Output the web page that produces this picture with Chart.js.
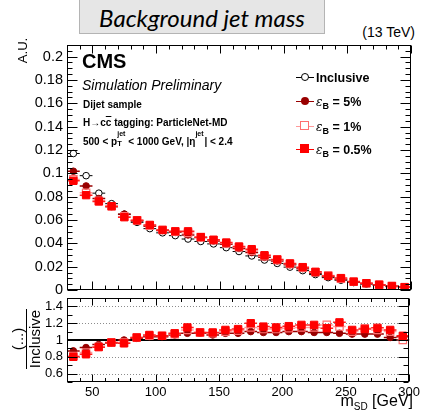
<!DOCTYPE html>
<html>
<head>
<meta charset="utf-8">
<script src="https://cdn.jsdelivr.net/npm/chart.js@4"></script>
<style>
  body { margin: 0; width: 423px; height: 412px; position: relative; overflow: hidden; background: #fff;
         font-family: "Liberation Sans", Arial, sans-serif; color: #000; }
  canvas { position: absolute; left: 0; top: 0; }
  .t { position: absolute; white-space: nowrap; line-height: 1; }
  .b { font-weight: bold; }
  #title { position: absolute; left: 79px; top: -1px; width: 244px; height: 33px; background: #e6e6e6;
           border: 1px solid #b4b4b4; font-family: Lato, "Open Sans", sans-serif; font-style: italic;
           font-size: 24px; text-align: center; line-height: 36px; }
  .leg { position: absolute; left: 296px; width: 130px; height: 16px; }
  .leg .ln { position: absolute; left: 0; top: 7px; width: 18px; height: 1px; }
  .leg .mk { position: absolute; box-sizing: border-box; }
  .leg .lab { position: absolute; left: 20px; top: 0; font-weight: bold; font-size: 12.5px; line-height: 16px; white-space: nowrap; }
  .eps { font-style: italic; font-weight: normal; font-family: "DejaVu Serif", serif; font-size: 12px; }
  .leg sub { font-size: 9px; vertical-align: -3px; }
  .stk { display: inline-block; position: relative; width: 11px; height: 1em; }
  .stk .up { position: absolute; left: 0; top: -5px; font-size: 7px; }
  .stk .dn { position: absolute; left: 0; top: 5px; font-size: 7.5px; }
  .ov { text-decoration: overline; }
</style>
</head>
<body>
<div id="title">Background jet mass</div>
<div class="t" style="right:8px; top:25px; font-size:14px;">(13 TeV)</div>

<canvas id="massChart" width="423" height="412"></canvas>
<canvas id="ratioChart" width="423" height="412"></canvas>

<div class="t b" style="left:82px; top:51px; font-size:20px;">CMS</div>
<div class="t" style="left:82px; top:78px; font-size:14px; font-style:italic;">Simulation Preliminary</div>
<div class="t b" style="left:83px; top:100px; font-size:10px;">Dijet sample</div>
<div class="t b" style="left:83px; top:118px; font-size:10px;">H→c<span class="ov">c</span> tagging: ParticleNet-MD</div>
<div class="t b" style="left:83px; top:135px; font-size:10px;">500 &lt; p<span class="stk"><span class="up">jet</span><span class="dn">T</span></span>&lt; 1000 GeV, |η<span class="stk" style="width:9px"><span class="up">jet</span></span>| &lt; 2.4</div>

<div class="leg" style="top:70px">
  <div class="ln" style="background:#000"></div>
  <div class="mk" style="left:5px; top:3px; width:8px; height:8px; border:1px solid #000; border-radius:50%; background:#fff"></div>
  <div class="lab">Inclusive</div>
</div>
<div class="leg" style="top:94px">
  <div class="ln" style="background:#990000"></div>
  <div class="mk" style="left:5px; top:3px; width:8px; height:8px; border-radius:50%; background:#990000"></div>
  <div class="lab"><span class="eps">ε</span><sub>B</sub> = 5%</div>
</div>
<div class="leg" style="top:119px">
  <div class="ln" style="background:#ff9a9a"></div>
  <div class="mk" style="left:4px; top:2px; width:9px; height:9px; border:1px solid #ff7070; background:#fff"></div>
  <div class="lab"><span class="eps">ε</span><sub>B</sub> = 1%</div>
</div>
<div class="leg" style="top:142px">
  <div class="ln" style="background:#ff0000"></div>
  <div class="mk" style="left:4px; top:2px; width:9px; height:9px; background:#ff0000"></div>
  <div class="lab"><span class="eps">ε</span><sub>B</sub> = 0.5%</div>
</div>

<div class="t" style="left:8px; top:44px; width:28px; font-size:13px; text-align:center; transform:rotate(-90deg); transform-origin:center;">A.U.</div>
<div style="position:absolute; left:-4px; top:323px; width:60px; height:32px; font-size:15px; line-height:15px; text-align:center; transform:rotate(-90deg); transform-origin:center;">
  <div style="border-bottom:1.5px solid #000; padding-bottom:1px">(...)</div>
  <div>Inclusive</div>
</div>
<div class="t" style="right:10px; top:393px; font-size:16px;">m<sub style="font-size:10px">SD</sub> [GeV]</div>

<script>
// soft-drop mass bin centres (GeV), 10 GeV wide bins
const massBins = [35, 45, 55, 65, 75, 85, 95, 105, 115, 125, 135, 145, 155, 165, 175,
                  185, 195, 205, 215, 225, 235, 245, 255, 265, 275, 285, 295];
const binHalf = 5;

// normalised distributions (A.U.)
const inclusive = [0.117, 0.098, 0.083, 0.074, 0.065, 0.058, 0.0526, 0.049, 0.0466, 0.0437, 0.0416, 0.0395, 0.0363, 0.033,
                   0.0292, 0.0257, 0.0228, 0.0196, 0.0166, 0.0132, 0.0106, 0.0084, 0.0064, 0.0051, 0.004, 0.003, 0.0024];
const effB5 = [0.1018, 0.0892, 0.0784, 0.0714, 0.065, 0.0592, 0.0547, 0.051, 0.0494, 0.0472, 0.0449, 0.0419, 0.0392, 0.0356,
               0.0321, 0.028, 0.0249, 0.0216, 0.0183, 0.0144, 0.0116, 0.0091, 0.0068, 0.0055, 0.0043, 0.0031, 0.0025];
const effB1 = [0.0948, 0.0833, 0.0764, 0.0718, 0.0631, 0.0597, 0.0552, 0.0515, 0.0499, 0.0489, 0.0453, 0.0427, 0.0399, 0.0366,
               0.0336, 0.029, 0.0258, 0.0223, 0.0191, 0.0152, 0.0125, 0.0097, 0.007, 0.0058, 0.0045, 0.0033, 0.0024];
const effB05 = [0.0936, 0.0813, 0.0759, 0.0718, 0.0624, 0.0597, 0.0558, 0.0515, 0.0503, 0.0503, 0.0453, 0.0431, 0.0407, 0.0373,
                0.035, 0.0298, 0.0262, 0.0228, 0.0196, 0.0156, 0.0121, 0.0102, 0.0072, 0.0058, 0.0046, 0.0034, 0.0025];

// ratios to inclusive
const ratioB5 = [0.87, 0.91, 0.945, 0.965, 1.0, 1.02, 1.04, 1.04, 1.06, 1.08, 1.08, 1.06, 1.08, 1.08,
                 1.1, 1.09, 1.09, 1.1, 1.1, 1.09, 1.09, 1.08, 1.07, 1.07, 1.07, 1.03, 1.04];
const ratioB1 = [0.81, 0.85, 0.92, 0.97, 0.97, 1.03, 1.05, 1.05, 1.07, 1.12, 1.09, 1.08, 1.1, 1.11,
                 1.15, 1.13, 1.13, 1.14, 1.15, 1.15, 1.18, 1.16, 1.1, 1.14, 1.12, 1.1, 1.0];
const ratioB05 = [0.8, 0.83, 0.915, 0.97, 0.96, 1.03, 1.06, 1.05, 1.08, 1.15, 1.09, 1.09, 1.12, 1.13,
                  1.2, 1.16, 1.15, 1.165, 1.18, 1.18, 1.14, 1.21, 1.12, 1.13, 1.145, 1.12, 1.05];

const massTicks = [50, 100, 150, 200, 250, 300];
const auTicks = [0, 0.02, 0.04, 0.06, 0.08, 0.1, 0.12, 0.14, 0.16, 0.18, 0.2];
const ratioTicks = [0.6, 0.8, 1, 1.2, 1.4];
const ratioGrid = [0.6, 0.8, 1.2, 1.4];

Chart.defaults.font.family = "'Liberation Sans', Arial, sans-serif";
Chart.defaults.color = '#000';

const pts = ys => massBins.map((m, i) => ({ x: m, y: ys[i] }));

// series look: [label, values, marker, radius, fill, edge, bar colour, bar width]
function makeSets(vals) {
  return [
    { label: 'Inclusive', data: pts(vals[0]), pointStyle: 'circle', pointRadius: 3.3, backgroundColor: '#fff',
      borderColor: '#000', pointBorderWidth: 1, barColor: '#000', barWidth: 1, order: 4 },
    { label: 'eB 5%', data: pts(vals[1]), pointStyle: 'circle', pointRadius: 3.3, backgroundColor: '#990000',
      borderColor: '#990000', pointBorderWidth: 1, barColor: '#990000', barWidth: 1.5, order: 3 },
    { label: 'eB 1%', data: pts(vals[2]), pointStyle: 'rect', pointRadius: 5.2, backgroundColor: 'rgba(255,255,255,0)',
      borderColor: '#ff7070', pointBorderWidth: 1.2, barColor: 'rgba(255,110,110,0.7)', barWidth: 1.5, order: 2 },
    { label: 'eB 0.5%', data: pts(vals[3]), pointStyle: 'rect', pointRadius: 5.2, backgroundColor: '#ff0000',
      borderColor: '#ff0000', pointBorderWidth: 1, barColor: '#ff2020', barWidth: 1.5, order: 1 }
  ];
}

// horizontal bin-width bars under every marker
const binBars = {
  id: 'binBars',
  beforeDatasetDraw(chart, args) {
    const ds = chart.data.datasets[args.index];
    const { ctx, scales: { x, y } } = chart;
    ctx.save();
    ctx.beginPath();
    ctx.rect(chart.chartArea.left, chart.chartArea.top, chart.chartArea.width, chart.chartArea.height);
    ctx.clip();
    ctx.strokeStyle = ds.barColor;
    ctx.lineWidth = ds.barWidth;
    ctx.beginPath();
    ds.data.forEach(p => {
      const py = y.getPixelForValue(p.y);
      ctx.moveTo(x.getPixelForValue(p.x - binHalf), py);
      ctx.lineTo(x.getPixelForValue(p.x + binHalf), py);
    });
    ctx.stroke();
    ctx.restore();
  }
};

// box frame with inward ticks on all four sides
const frameTicks = {
  id: 'frameTicks',
  afterDraw(chart, args, o) {
    const { ctx, chartArea: a, scales: { x, y } } = chart;
    const L = Math.round(a.left) + 0.5, R = Math.round(a.right) - 0.5;
    const T = Math.round(a.top) + 0.5, B = Math.round(a.bottom) - 0.5;
    ctx.save();
    ctx.strokeStyle = '#000';
    ctx.lineWidth = 1;
    ctx.beginPath();
    const nx = Math.round((x.max - x.min) / o.xStep);
    for (let i = 0; i <= nx; i++) {
      const v = x.min + i * o.xStep;
      const major = Math.abs(v / o.xMajor - Math.round(v / o.xMajor)) < 1e-6;
      const len = major ? o.xLen : o.xLen / 2;
      const px = Math.round(x.getPixelForValue(v)) + 0.5;
      ctx.moveTo(px, T); ctx.lineTo(px, T + len);
      ctx.moveTo(px, B); ctx.lineTo(px, B - len);
    }
    const ny = Math.round((y.max - y.min) / o.yStep);
    for (let i = 0; i <= ny; i++) {
      const v = y.min + i * o.yStep;
      const major = Math.abs(v / o.yMajor - Math.round(v / o.yMajor)) < 1e-6;
      const len = major ? o.yLen : o.yLen / 2;
      const py = Math.round(y.getPixelForValue(v)) + 0.5;
      ctx.moveTo(L, py); ctx.lineTo(L + len, py);
      ctx.moveTo(R, py); ctx.lineTo(R - len, py);
    }
    ctx.stroke();
    ctx.strokeRect(L, T, R - L, B - T);
    ctx.restore();
  }
};

// dotted reference levels and the unity line in the ratio pad
const ratioLines = {
  id: 'ratioLines',
  beforeDatasetsDraw(chart) {
    const { ctx, chartArea: a, scales: { y } } = chart;
    ctx.save();
    ctx.strokeStyle = '#8c8c8c';
    ctx.lineWidth = 1;
    ctx.setLineDash([1, 2]);
    ctx.beginPath();
    ratioGrid.forEach(v => {
      const py = Math.round(y.getPixelForValue(v)) + 0.5;
      ctx.moveTo(a.left, py); ctx.lineTo(a.right, py);
    });
    ctx.stroke();
    ctx.setLineDash([]);
    ctx.strokeStyle = '#000';
    ctx.lineWidth = 2;
    ctx.beginPath();
    const p1 = Math.round(y.getPixelForValue(1));
    ctx.moveTo(a.left, p1); ctx.lineTo(a.right, p1);
    ctx.stroke();
    ctx.restore();
  }
};

const fmt = v => String(+v.toFixed(2));

new Chart(document.getElementById('massChart'), {
  type: 'scatter',
  data: { datasets: makeSets([inclusive, effB5, effB1, effB05]) },
  plugins: [binBars, frameTicks],
  options: {
    responsive: false, animation: false, events: [],
    layout: { autoPadding: false, padding: { top: 45, right: 12, bottom: 122, left: 0 } },
    plugins: {
      legend: { display: false }, tooltip: { enabled: false },
      frameTicks: { xStep: 10, xMajor: 50, xLen: 8, yStep: 0.005, yMajor: 0.02, yLen: 10 }
    },
    scales: {
      x: { type: 'linear', min: 30, max: 300, display: false },
      y: {
        min: 0, max: 0.21,
        grid: { display: false, drawTicks: false }, border: { display: false },
        afterBuildTicks: s => { s.ticks = auTicks.map(v => ({ value: v })); },
        afterFit: s => { s.width = 67; },
        ticks: { padding: 4, font: { size: 14.5 }, callback: fmt }
      }
    }
  }
});

new Chart(document.getElementById('ratioChart'), {
  type: 'scatter',
  data: { datasets: makeSets([massBins.map(() => NaN), ratioB5, ratioB1, ratioB05]).slice(1) },
  plugins: [ratioLines, binBars, frameTicks],
  options: {
    responsive: false, animation: false, events: [],
    layout: { autoPadding: false, padding: { top: 298, right: 12, bottom: 0, left: 0 } },
    plugins: {
      legend: { display: false }, tooltip: { enabled: false },
      frameTicks: { xStep: 10, xMajor: 50, xLen: 7, yStep: 0.1, yMajor: 0.2, yLen: 10 }
    },
    scales: {
      x: {
        type: 'linear', min: 30, max: 300,
        grid: { display: false, drawTicks: false }, border: { display: false },
        afterBuildTicks: s => { s.ticks = massTicks.map(v => ({ value: v })); },
        afterFit: s => { s.height = 30; },
        ticks: { padding: 3, maxRotation: 0, font: { size: 13 } }
      },
      y: {
        min: 0.5, max: 1.5,
        grid: { display: false, drawTicks: false }, border: { display: false },
        afterBuildTicks: s => { s.ticks = ratioTicks.map(v => ({ value: v })); },
        afterFit: s => { s.width = 67; },
        ticks: { padding: 4, font: { size: 13 }, callback: fmt }
      }
    }
  }
});
</script>
</body>
</html>
